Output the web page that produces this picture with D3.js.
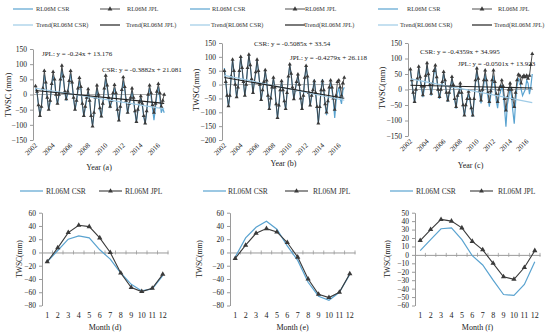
<!DOCTYPE html>
<html>
<head>
<meta charset="utf-8">
<script src="https://cdn.jsdelivr.net/npm/d3@7"></script>
<style>
  body { margin: 0; background: #fff; }
  svg { font-family: "Liberation Serif", "DejaVu Serif", serif; }
</style>
</head>
<body>
<svg id="chart" width="550" height="335"></svg>
<script>
// ---- data ----
const years = [2002, 2003, 2004, 2005, 2006, 2007, 2008, 2009, 2010, 2011, 2012, 2013, 2014, 2015, 2016];
const sampleMonths = [2, 4, 6, 8, 10, 12];
const yearTicks = [2002, 2004, 2006, 2008, 2010, 2012, 2014, 2016];
const months = [1, 2, 3, 4, 5, 6, 7, 8, 9, 10, 11, 12];

// panel (a)
const csrA = [
  [null, 20, 5, -35, -65, -40], [15, 65, 35, -12, -50, -25], [28, 62, 42, -5, -32, -5],
  [40, 85, 50, 5, -20, 5], [38, 68, 32, -15, -52, -25], [12, 45, 18, -35, -72, -45],
  [-15, 10, -25, -72, -102, -62], [-15, 20, -8, -50, -75, -35], [12, 52, 22, -15, -45, -25],
  [-2, 22, -2, -55, -88, -45], [8, 45, 15, -25, -62, -35], [-15, 10, -18, -60, -92, -55],
  [-30, -12, -35, -75, -98, -60], [-8, 22, -5, -45, -85, -45], [0, 25, -10, -60, -45, -60]
];
const jplA = [
  [null, 28, 10, -35, -70, -40], [20, 78, 40, -10, -50, -20], [35, 75, 50, 0, -30, 0],
  [50, 95, 60, 10, -15, 10], [45, 78, 40, -10, -50, -20], [20, 55, 25, -30, -70, -40],
  [-10, 18, -20, -70, -105, -60], [-10, 30, 0, -45, -72, -30], [20, 62, 30, -10, -40, -20],
  [5, 32, 5, -50, -85, -40], [15, 57, 25, -20, -60, -30], [-10, 20, -10, -55, -90, -50],
  [-25, -5, -30, -70, -95, -55], [0, 30, 5, -35, -60, -30], [10, 35, 5, -40, -20, 0]
];
// panel (b)
const csrB = [
  [null, 60, 15, -40, -80, -40], [30, 88, 48, 0, -48, -10], [48, 98, 58, 8, -42, -2],
  [58, 105, 68, 18, -32, 8], [42, 88, 48, -2, -58, -22], [8, 50, 12, -42, -90, -52],
  [-12, 22, -12, -72, -122, -78], [-22, 10, -22, -62, -90, -32], [28, 70, 38, -12, -55, -22],
  [8, 35, -2, -52, -90, -42], [22, 65, 28, -32, -78, -45], [-15, 18, -30, -85, -140, -85],
  [-15, 20, -25, -75, -110, -70], [-20, 10, -20, -60, -120, -60], [-30, -10, -50, -70, -20, -10]
];
const jplB = [
  [null, 50, 10, -40, -78, -40], [30, 90, 50, 0, -45, -10], [50, 100, 60, 10, -40, 0],
  [60, 108, 70, 20, -30, 10], [45, 90, 50, 0, -55, -20], [10, 52, 15, -40, -88, -50],
  [-10, 25, -10, -70, -120, -75], [-20, 13, -20, -60, -88, -30], [30, 73, 40, -10, -52, -20],
  [10, 37, 0, -50, -88, -40], [25, 68, 30, -30, -75, -40], [-20, 13, -30, -80, -140, -80],
  [-20, 13, -20, -70, -100, -60], [-10, 15, -10, -50, -90, -40], [10, 15, -10, -40, 5, 25]
];
// panel (c)
const csrC = [
  [null, 60, 25, -15, -42, -5], [30, 70, 35, 0, -25, 0], [40, 78, 45, 10, -20, 10],
  [50, 72, 35, -5, -30, -5], [20, 52, 25, -15, -40, -15], [5, 36, 10, -35, -62, -25],
  [-15, 15, -15, -55, -85, -55], [-35, -12, -35, -65, -88, -35], [20, 62, 25, -15, -45, -10],
  [15, 50, 15, -25, -55, -20], [10, 45, 5, -35, -60, -20], [-10, 15, -10, -60, -120, -50],
  [-25, 5, -20, -70, -110, -40], [10, 35, 30, 0, -20, -10], [0, 30, 20, -15, 10, 50]
];
const jplC = [
  [null, 65, 30, -10, -40, 0], [35, 74, 40, 10, -18, 10], [45, 85, 50, 15, -13, 20],
  [60, 78, 40, 0, -24, 0], [25, 57, 30, -10, -35, -10], [10, 41, 15, -30, -56, -20],
  [-10, 20, -10, -50, -83, -50], [-30, -7, -30, -60, -83, -30], [30, 68, 35, -5, -35, 0],
  [30, 62, 30, -10, -40, -5], [30, 62, 25, -15, -40, 0], [10, 30, 10, -30, -67, -25],
  [0, 20, 0, -30, -56, -10], [30, 48, 45, 20, 40, 45], [40, 45, 35, 45, 80, 115]
];

// linear trends [slope, intercept], x = month index
const trendCsr = [[-0.3882, 21.081], [-0.5085, 33.54], [-0.4359, 34.995]];
const trendJpl = [[-0.24, 13.176], [-0.4279, 26.118], [-0.0501, 13.923]];
const csrLabels = ["CSR: y = -0.3882x + 21.081", "CSR: y = -0.5085x + 33.54", "CSR: y = -0.4359x + 34.995"];
const jplLabels = ["JPL: y = -0.24x + 13.176", "JPL: y = -0.4279x + 26.118", "JPL: y = -0.0501x + 13.923"];

// monthly climatology
const csrD = [-14, 3, 20, 25, 22, 4, -10, -31, -48, -58, -55, -35];
const jplD = [-14, 7, 30, 41, 39, 22, 0, -31, -53, -59, -54, -33];
const csrE = [-7, 22, 38, 47, 35, 10, -12, -45, -66, -72, -60, -33];
const jplE = [-9, 11, 29, 36, 31, 15, -7, -40, -63, -68, -60, -32];
const csrF = [5, 18, 31, 32, 18, -1, -12, -30, -47, -48, -35, -8];
const jplF = [17, 30, 42, 40, 32, 16, 6, -10, -26, -29, -15, 5];

// ---- drawing ----
const svg = d3.select("#chart");
const blue = "#5aa3d0", lightBlue = "#9fcbe6", dark = "#3a3a3a", axisGray = "#9a9a9a";
const tri = d3.symbol().type(d3.symbolTriangle);

function toSeries(vals) {
  let out = [];
  vals.forEach((row, i) => row.forEach((v, j) => {
    if (v !== null) out.push({t: years[i] + (sampleMonths[j] - 0.5) / 12, v: v});
  }));
  return out;
}

function legendItem(g, x1, x2, y, color, marker, label, tx, width, fs) {
  g.append("line").attr("x1", x1).attr("x2", x2).attr("y1", y).attr("y2", y)
    .attr("stroke", color).attr("stroke-width", width || 1.2);
  if (marker) {
    g.append("path").attr("d", tri.size(10)())
      .attr("transform", "translate(" + ((x1 + x2) / 2) + "," + y + ")")
      .attr("fill", color);
  }
  g.append("text").attr("x", tx).attr("y", y).attr("dy", "0.35em")
    .attr("font-size", fs || 6.3).attr("fill", "#333").text(label);
}

function styleAxis(g, fs) {
  g.select(".domain").attr("stroke", axisGray);
  g.selectAll(".tick line").attr("stroke", axisGray);
  g.selectAll(".tick text").attr("font-size", fs).attr("fill", "#222")
    .attr("font-family", "Liberation Serif");
}

function topPanel(p) {
  let g = svg.append("g");
  let x = d3.scaleLinear().domain([2002, 2017.05]).range([p.x0, p.x1]);
  let y = d3.scaleLinear().domain([p.ymin, 150]).range([p.yb, p.yt]);

  let ya = g.append("g").attr("transform", "translate(" + p.x0 + ",0)")
    .call(d3.axisLeft(y).tickValues(d3.range(p.ymin, 151, 50)).tickSize(3).tickSizeOuter(0));
  styleAxis(ya, 7.5);

  g.append("line").attr("x1", p.x0).attr("x2", p.x1).attr("y1", y(0)).attr("y2", y(0))
    .attr("stroke", axisGray).attr("stroke-width", 0.8);

  g.selectAll(".yl").data(yearTicks).enter().append("text")
    .attr("transform", d => "translate(" + (x(d) + 3) + "," + (p.yb + 4) + ") rotate(-45)")
    .attr("text-anchor", "end").attr("dy", "0.35em")
    .attr("font-size", 7).attr("fill", "#222").text(d => d);

  let csr = toSeries(p.csr), jpl = toSeries(p.jpl);
  let line = d3.line().x(d => x(d.t)).y(d => y(d.v));

  g.append("path").datum(csr).attr("d", line).attr("fill", "none")
    .attr("stroke", blue).attr("stroke-width", 1.2);
  g.append("path").datum(jpl).attr("d", line).attr("fill", "none")
    .attr("stroke", dark).attr("stroke-width", 0.9);
  g.selectAll(".m").data(jpl).enter().append("path")
    .attr("d", tri.size(7)())
    .attr("transform", d => "translate(" + x(d.t) + "," + y(d.v) + ")")
    .attr("fill", dark);

  let tStart = csr[0].t, tEnd = csr[csr.length - 1].t;
  let idx = t => (t - tStart) * 12 + 1;
  [[p.tc, lightBlue, 1.2], [p.tj, "#222", 1.1]].forEach(([c, col, w]) => {
    g.append("line")
      .attr("x1", x(tStart)).attr("y1", y(c[0] * idx(tStart) + c[1]))
      .attr("x2", x(tEnd)).attr("y2", y(c[0] * idx(tEnd) + c[1]))
      .attr("stroke", col).attr("stroke-width", w);
  });

  p.eq.forEach(e => g.append("text").attr("x", e[0]).attr("y", e[1])
    .attr("font-size", 7).attr("fill", "#222").text(e[2]));

  g.append("text").attr("transform", "translate(" + p.ylx + "," + p.yly + ") rotate(-90)")
    .attr("text-anchor", "middle").attr("font-size", 8.5).attr("fill", "#222").text(p.ylabel);
  g.append("text").attr("x", (p.x0 + p.x1) / 2).attr("y", p.xly)
    .attr("text-anchor", "middle").attr("font-size", 8).attr("fill", "#222").text(p.xlabel);

  let L = p.leg;
  legendItem(g, L[0], L[0] + 20, 9, blue, false, "RL06M CSR", L[1]);
  legendItem(g, L[2], L[2] + 20, 9, dark, true, "RL06M JPL", L[3], 0.9);
  legendItem(g, L[0], L[0] + 20, 25, lightBlue, false, "Trend(RL06M CSR)", L[4]);
  legendItem(g, L[2], L[2] + 20, 25, "#222", false, "Trend(RL06M JPL)", L[5]);
}

function bottomPanel(p) {
  let g = svg.append("g");
  let x = d3.scaleBand().domain(months).range([p.x0, p.x1]);
  let cx = m => x(m) + x.bandwidth() / 2;
  let y = d3.scaleLinear().domain([p.ymin, p.ymax]).range([305.5, 212.7]);

  let ya = g.append("g").attr("transform", "translate(" + p.x0 + ",0)")
    .call(d3.axisLeft(y).tickValues(d3.range(p.ymin, p.ymax + 1, p.step)).tickSize(3).tickSizeOuter(0));
  styleAxis(ya, 7.5);

  let xa = g.append("g").attr("transform", "translate(0," + y(0) + ")")
    .call(d3.axisBottom(x).tickSize(0).tickFormat(""));
  styleAxis(xa, 7.5);
  g.selectAll(".mt").data(months).enter().append("line")
    .attr("x1", d => x(d) + x.bandwidth()).attr("x2", d => x(d) + x.bandwidth())
    .attr("y1", y(0) - 2).attr("y2", y(0) + 2).attr("stroke", axisGray).attr("stroke-width", 0.8);

  g.selectAll(".ml").data(months).enter().append("text")
    .attr("x", cx).attr("y", 318).attr("text-anchor", "middle")
    .attr("font-size", 8).attr("fill", "#222").text(d => d);

  let line = d3.line().x((d, i) => cx(months[i])).y(d => y(d));
  g.append("path").datum(p.csr).attr("d", line).attr("fill", "none")
    .attr("stroke", blue).attr("stroke-width", 1.2);
  g.append("path").datum(p.jpl).attr("d", line).attr("fill", "none")
    .attr("stroke", dark).attr("stroke-width", 1.1);
  g.selectAll(".m").data(p.jpl).enter().append("path")
    .attr("d", tri.size(12)())
    .attr("transform", (d, i) => "translate(" + cx(months[i]) + "," + y(d) + ")")
    .attr("fill", dark);

  g.append("text").attr("transform", "translate(" + p.ylx + ",259) rotate(-90)")
    .attr("text-anchor", "middle").attr("font-size", 7.5).attr("fill", "#222").text("TWSC(mm)");
  g.append("text").attr("x", (p.x0 + p.x1) / 2).attr("y", 330)
    .attr("text-anchor", "middle").attr("font-size", 8).attr("fill", "#222").text(p.xlabel);

  let L = p.leg;
  legendItem(g, L[0], L[0] + 23, 191, blue, false, "RL06M CSR", L[1], 1.2, 7.5);
  legendItem(g, L[2], L[2] + 23, 191, dark, true, "RL06M JPL", L[3], 1.1, 7.5);
}

topPanel({x0: 33, x1: 165, yb: 140, yt: 49, ymin: -150, csr: csrA, jpl: jplA,
  tc: trendCsr[0], tj: trendJpl[0],
  eq: [[42, 55.5, jplLabels[0]], [102, 71.5, csrLabels[0]]],
  ylx: 11, yly: 95, ylabel: "TWSC (mm)", xly: 170, xlabel: "Year (a)",
  leg: [13, 36, 100, 127, 36, 126]});
topPanel({x0: 222, x1: 345, yb: 140, yt: 43, ymin: -200, csr: csrB, jpl: jplB,
  tc: trendCsr[1], tj: trendJpl[1],
  eq: [[254, 45.5, csrLabels[1]], [290, 59.5, jplLabels[1]]],
  ylx: 199, yly: 90, ylabel: "TWSC(mm)", xly: 166, xlabel: "Year (b)",
  leg: [190, 212, 285, 305, 211, 304]});
topPanel({x0: 408, x1: 533, yb: 136, yt: 43, ymin: -150, csr: csrC, jpl: jplC,
  tc: trendCsr[2], tj: trendJpl[2],
  eq: [[420, 53.5, csrLabels[2]], [458, 65.5, jplLabels[2]]],
  ylx: 385, yly: 88, ylabel: "TWSC(mm)", xly: 168, xlabel: "Year (c)",
  leg: [378, 407, 472, 498, 400, 494]});

bottomPanel({x0: 42, x1: 168, ymin: -80, ymax: 60, step: 20, csr: csrD, jpl: jplD,
  ylx: 22, xlabel: "Month (d)", leg: [20, 46, 99, 125]});
bottomPanel({x0: 230, x1: 355, ymin: -80, ymax: 60, step: 20, csr: csrE, jpl: jplE,
  ylx: 202, xlabel: "Month (e)", leg: [203, 228, 285, 313]});
bottomPanel({x0: 415, x1: 540, ymin: -60, ymax: 50, step: 10, csr: csrF, jpl: jplF,
  ylx: 390, xlabel: "Month (f)", leg: [390, 416, 470, 498]});
</script>
</body>
</html>
